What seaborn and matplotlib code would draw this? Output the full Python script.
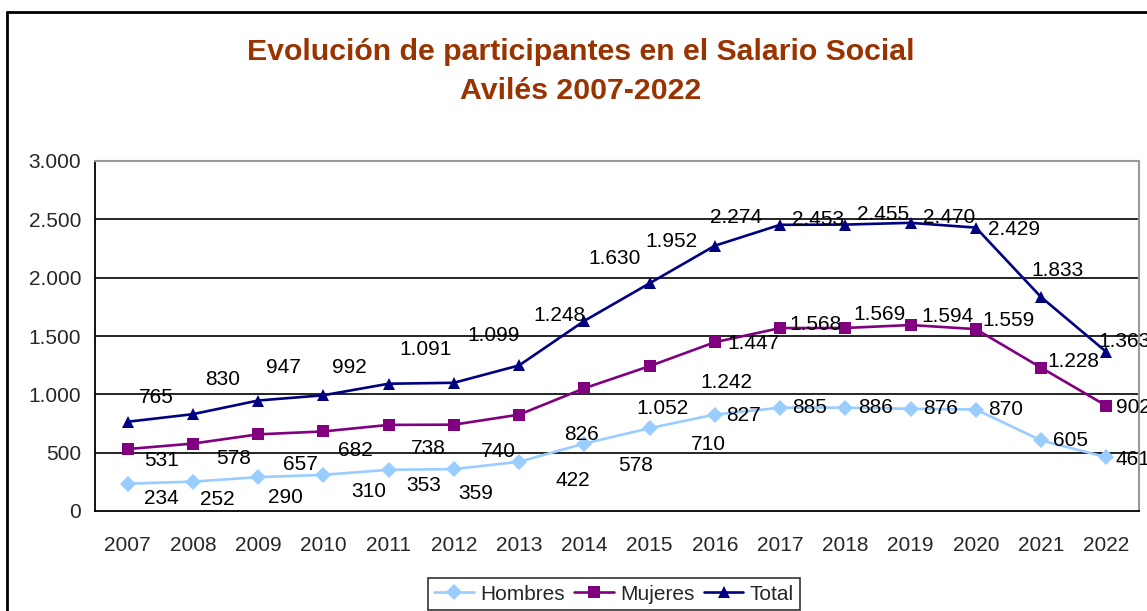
import numpy as np
import pandas as pd
import matplotlib
matplotlib.use("Agg")
import matplotlib.pyplot as plt
import seaborn as sns
from matplotlib.ticker import FuncFormatter, MultipleLocator

# --- datos ---
anios = list(range(2007, 2023))
hombres = [234, 252, 290, 310, 353, 359, 422, 578, 710, 827, 885, 886, 876, 870, 605, 461]
mujeres = [531, 578, 657, 682, 738, 740, 826, 1052, 1242, 1447, 1568, 1569, 1594, 1559, 1228, 902]
total = [765, 830, 947, 992, 1091, 1099, 1248, 1630, 1952, 2274, 2453, 2455, 2470, 2429, 1833, 1363]
series = ["Hombres", "Mujeres", "Total"]

# desplazamiento de las etiquetas (pixeles) como en la hoja original
desp_etiquetas = {
    "Hombres": [(34, -15), (24, -18), (27, -20), (45, -17), (35, -16), (22, -24), (54, -19), (51, -22),
                (59, -16), (29, -1), (29, 0), (30, 0), (30, 0), (30, 0), (29, 0), (27, -2)],
    "Mujeres": [(34, -11), (41, -15), (42, -30), (32, -19), (40, -24), (45, -27), (62, -20), (78, -20),
                (77, -16), (39, -1), (35, 4), (34, 13), (37, 9), (33, 9), (32, 6), (27, -2)],
    "Total": [(29, 24), (30, 35), (25, 33), (26, 28), (37, 34), (40, 47), (40, 50), (30, 62),
              (22, 42), (21, 28), (38, 5), (38, 10), (38, 5), (38, -2), (16, 27), (18, 10)],
}

df = pd.DataFrame({"Año": anios, "Hombres": hombres, "Mujeres": mujeres, "Total": total})
df_largo = df.melt(id_vars="Año", var_name="Serie", value_name="Participantes")

colores = {"Hombres": "#99CCFF", "Mujeres": "#800080", "Total": "#000080"}
marcadores = {"Hombres": "D", "Mujeres": "s", "Total": "^"}

sns.set_style("white")
plt.rcParams["font.family"] = ["Liberation Sans", "DejaVu Sans"]
tam = 15

fig = plt.figure(figsize=(11.47, 6.11), dpi=100)
ax = fig.add_axes([95 / 1147, 1 - 511 / 611, (1139 - 95) / 1147, 350 / 611])

sns.lineplot(data=df_largo, x="Año", y="Participantes", hue="Serie", style="Serie",
             palette=colores, markers=marcadores, dashes=False, linewidth=1.9,
             markersize=8.5, markeredgewidth=0, ax=ax, legend=True)

# etiquetas de datos
for serie in series:
    for anio, valor, (dx, dy) in zip(anios, df[serie], desp_etiquetas[serie]):
        ax.annotate(f"{valor:,}".replace(",", "."), (anio, valor), xytext=(dx, dy),
                    textcoords="offset pixels", ha="center", va="center",
                    fontsize=tam, color="black", annotation_clip=False)

# ejes
ax.set_xlim(2006.5, 2022.5)
ax.set_ylim(0, 3000)
ax.yaxis.set_major_locator(MultipleLocator(500))
ax.yaxis.set_major_formatter(FuncFormatter(lambda v, p: f"{int(v):,}".replace(",", ".")))
ax.set_xticks(anios)
ax.set_xticks(np.arange(2006.5, 2023, 1), minor=True)
ax.tick_params(axis="x", which="major", length=0, labelsize=tam, pad=18)
ax.tick_params(axis="x", which="minor", length=6, width=1.2, color="black", direction="out")
ax.tick_params(axis="y", length=6, width=1.2, color="black", direction="out", labelsize=tam, pad=4)
ax.set_xlabel("")
ax.set_ylabel("")
for v in range(500, 3000, 500):
    ax.axhline(v, color="black", linewidth=1.2, zorder=0)
ax.spines["left"].set_color("black")
ax.spines["bottom"].set_color("black")
ax.spines["left"].set_linewidth(1.3)
ax.spines["bottom"].set_linewidth(1.3)
ax.spines["top"].set_color("#999999")
ax.spines["right"].set_color("#999999")
ax.spines["top"].set_linewidth(1.5)
ax.spines["right"].set_linewidth(1.5)

# leyenda
handles, labels = ax.get_legend_handles_labels()
ax.get_legend().remove()
leg = fig.legend(handles, labels, loc="upper center", bbox_to_anchor=(614 / 1147, 1 - 568 / 611),
                 ncol=3, fontsize=tam, frameon=True, fancybox=False, edgecolor="black",
                 handlelength=1.9, handletextpad=0.3, columnspacing=0.45, borderpad=0.3)
leg.get_frame().set_linewidth(1.2)

# titulo
color_titulo = "#993300"
fig.text(581 / 1147, 1 - 52 / 611, "Evolución de participantes en el Salario Social",
         ha="center", va="center", fontsize=21.8, fontweight="bold", color=color_titulo)
fig.text(581 / 1147, 1 - 91 / 611, "Avilés 2007-2022",
         ha="center", va="center", fontsize=21.8, fontweight="bold", color=color_titulo)

# marco del grafico
fig.add_artist(plt.Line2D([7 / 1147, 7 / 1147], [0, 1 - 12 / 611], transform=fig.transFigure,
                          color="black", linewidth=2))
fig.add_artist(plt.Line2D([7 / 1147, 1], [1 - 12 / 611, 1 - 12 / 611], transform=fig.transFigure,
                          color="black", linewidth=2))

fig.savefig("out.png", dpi=100)
